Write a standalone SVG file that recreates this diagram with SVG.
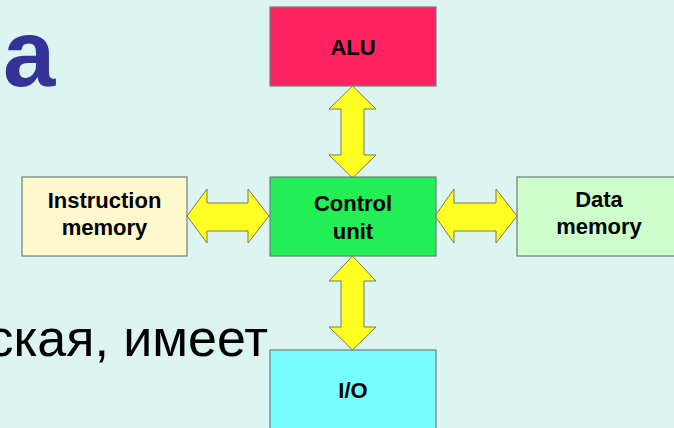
<svg xmlns="http://www.w3.org/2000/svg" width="674" height="428" viewBox="0 0 674 428">
  <style>
    .box { stroke: #6f7f7a; stroke-width: 1.2; }
    .label { font-family: "Liberation Sans", Arial, sans-serif; font-weight: bold; font-size: 22px; fill: #000; text-anchor: middle; }
    .bus { fill: #ffff22; stroke: #7a7a5a; stroke-width: 1; stroke-linejoin: miter; }
    .slide { font-family: "Liberation Sans", Arial, sans-serif; }
  </style>

  <!-- slide background -->
  <rect x="0" y="0" width="674" height="428" fill="#ddf5f1"/>

  <!-- slide text behind the diagram -->
  <text class="slide" x="3" y="86" font-size="94" font-weight="bold" fill="#333399">a</text>
  <text class="slide" x="268" y="356" font-size="52" fill="#000" text-anchor="end">ская, имеет</text>

  <!-- connectors: double-headed bus arrows -->
  <g id="connectors">
    <polygon class="bus" points="352.5,86 376,109 364,109 364,155 376,155 352.5,178 329,155 341,155 341,109 329,109"/>
    <polygon class="bus" points="352.5,256 376,281 364,281 364,327 376,327 352.5,350 329,327 341,327 341,281 329,281"/>
    <polygon class="bus" points="187,216 207,189 207,203 248,203 248,189 269,216 248,243 248,231 207,231 207,243"/>
    <polygon class="bus" points="435,216 454,189 454,203 496,203 496,189 517,216 496,243 496,231 454,231 454,243"/>
  </g>

  <g id="alu">
    <rect class="box" x="270" y="7" width="166" height="79" fill="#ff2262"/>
    <text class="label" x="353" y="55">ALU</text>
  </g>

  <g id="control-unit">
    <rect class="box" x="270" y="177" width="166" height="79" fill="#22ee55"/>
    <text class="label" x="353" y="211">Control</text>
    <text class="label" x="353" y="239">unit</text>
  </g>

  <g id="instruction-memory">
    <rect class="box" x="22" y="177" width="165" height="79" fill="#fff8cc"/>
    <text class="label" x="104.5" y="208">Instruction</text>
    <text class="label" x="104.5" y="235">memory</text>
  </g>

  <g id="data-memory">
    <rect class="box" x="517" y="177" width="164" height="79" fill="#ccffcc"/>
    <text class="label" x="599" y="207">Data</text>
    <text class="label" x="599" y="234">memory</text>
  </g>

  <g id="io">
    <rect class="box" x="270" y="350" width="166" height="79" fill="#77ffff"/>
    <text class="label" x="353" y="398">I/O</text>
  </g>
</svg>
